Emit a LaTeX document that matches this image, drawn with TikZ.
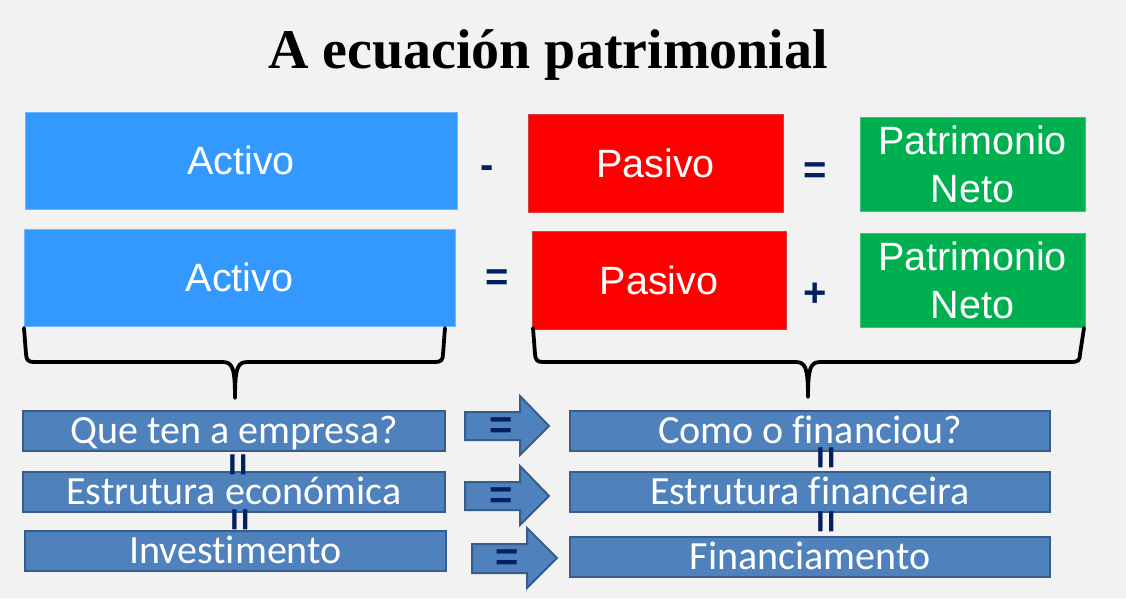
\documentclass[tikz,border=0pt]{standalone}
\usepackage{fontspec}
\setmainfont{Liberation Sans}
\newfontfamily\titlefont{Liberation Serif}
\newfontfamily\boxfont[Ligatures=NoCommon]{Carlito}
\definecolor{bg}{HTML}{F2F2F2}
\definecolor{actblue}{HTML}{3399FF}
\definecolor{actline}{HTML}{6FB5FF}
\definecolor{pasred}{HTML}{FF0000}
\definecolor{pasline}{HTML}{D04040}
\definecolor{pngreen}{HTML}{00B050}
\definecolor{pnline}{HTML}{40C080}
\definecolor{steel}{HTML}{4F81BD}
\definecolor{steeldark}{HTML}{385D8A}
\definecolor{navy}{HTML}{002060}
\begin{document}
\begin{tikzpicture}[x=1pt,y=-1pt,
  topbox/.style={line width=0.8pt, text=white, inner sep=0pt, align=center,
    font=\fontsize{39.5}{48}\selectfont},
  actbox/.style={topbox, fill=actblue, draw=actline},
  pasbox/.style={topbox, fill=pasred, draw=pasline},
  pnbox/.style={topbox, fill=pngreen, draw=pnline},
  qbox/.style={fill=steel, draw=steeldark, line width=2pt, text=white, inner sep=0pt,
    minimum height=40pt, text height=25.5pt, text depth=0pt,
    font=\boxfont\fontsize{40}{44}\selectfont},
  op/.style={text=navy, inner sep=0pt, font=\bfseries\fontsize{40}{44}\selectfont},
  blockarrow/.style={fill=steel, draw=steeldark, line width=2pt, line join=miter},
  bracestyle/.style={draw=black, line width=3.8pt, line cap=round, line join=round}]

\fill[bg] (0,0) rectangle (1126,598);
\useasboundingbox (0,0) rectangle (1126,598);

% title
\node[anchor=base, inner sep=0pt, font=\titlefont\bfseries\fontsize{56}{60}\selectfont] (title) at (548,68) {A ecuación patrimonial};

% row 1
\node[actbox, minimum width=432pt, minimum height=97pt] (act1) at (241,160.5) {Activo};
\node[pasbox, minimum width=255pt, minimum height=98pt] (pas1) at (655.5,163) {Pasivo};
\node[pnbox, minimum width=225pt, minimum height=94pt] (pn1) at (972.5,164) {Patrimonio\\Neto};
\node[op, anchor=base] (minus1) at (487,178) {-};
\node[op, anchor=base] (eq1) at (815,183) {=};

% row 2
\node[actbox, minimum width=431pt, minimum height=97pt] (act2) at (239.5,277.5) {Activo};
\node[pasbox, minimum width=254pt, minimum height=98pt] (pas2) at (659,280) {Pasivo};
\node[pnbox, minimum width=225pt, minimum height=94pt] (pn2) at (972.5,280) {Patrimonio\\Neto};
\node[op, anchor=base] (eq2) at (497,290) {=};
\node[op, anchor=base] (plus2) at (815,306) {+};

% braces
\draw[bracestyle] (24,328) -- (26,354) .. controls (26.5,360) and (28,362) .. (34,362)
  -- (222,362) .. controls (232,362) and (235,366) .. (235,398)
  .. controls (235,366) and (238,362) .. (248,362)
  -- (435,362) .. controls (441,362) and (443,360) .. (443,354) -- (445,328);
\draw[bracestyle] (533,328) -- (535,354) .. controls (535.5,360) and (537,362) .. (543,362)
  -- (795,362) .. controls (805,362) and (808,366) .. (808,397)
  .. controls (808,366) and (811,362) .. (821,362)
  -- (1072,362) .. controls (1078,362) and (1080,360) .. (1080,354) -- (1084,328);

% bottom boxes
\node[qbox, minimum width=422pt] (q1) at (234,431) {Que ten a empresa?};
\node[qbox, minimum width=422pt] (q2) at (234,492) {Estrutura económica};
\node[qbox, minimum width=421pt] (q3) at (235.5,551) {Investimento};
\node[qbox, minimum width=480pt] (r1) at (810,431) {Como o financiou?};
\node[qbox, minimum width=480pt] (r2) at (810,492) {Estrutura financeira};
\node[qbox, minimum width=480pt] (r3) at (810,557) {Financiamento};

% vertical equal signs
\node[op, rotate=90] (veq1) at (241,464.5) {=};
\node[op, rotate=90] (veq2) at (243,520) {=};
\node[op, rotate=90] (veq3) at (829,458) {=};
\node[op, rotate=90] (veq4) at (829,522) {=};

% block arrows
\draw[blockarrow] (465,412) -- (520,412) -- (520,396) -- (549,426) -- (520,455) -- (520,440) -- (465,440) -- cycle;
\draw[blockarrow] (465,482) -- (520,482) -- (520,466) -- (549,496) -- (520,525) -- (520,510) -- (465,510) -- cycle;
\draw[blockarrow] (472,544) -- (527,544) -- (527,528) -- (557,558) -- (527,588) -- (527,573) -- (472,573) -- cycle;
\node[op, anchor=base] (aeq1) at (501,438) {=};
\node[op, anchor=base] (aeq2) at (501,508) {=};
\node[op, anchor=base] (aeq3) at (507,570) {=};
\end{tikzpicture}
\end{document}
